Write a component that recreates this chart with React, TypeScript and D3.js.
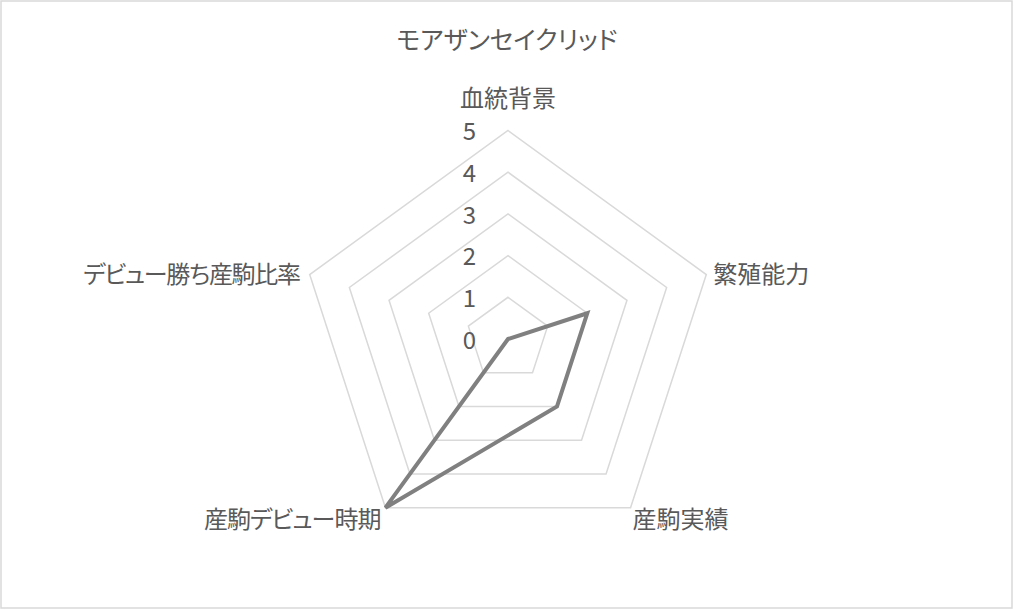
import * as d3 from 'd3';
import React, { useEffect, useRef } from 'react';

const chartTitle = 'モアザンセイクリッド';
const categories = ['血統背景', '繁殖能力', '産駒実績', '産駒デビュー時期', 'デビュー勝ち産駒比率'];
const values = [0, 2, 2, 5, 0];
const tickValues = [0, 1, 2, 3, 4, 5];

const W = 1014;
const H = 610;

const App: React.FC = () => {
  const chartRef = useRef<SVGSVGElement | null>(null);

  useEffect(() => {
    if (!chartRef.current) return;
    const svg = d3.select(chartRef.current);
    svg.selectAll('*').remove();

    const cx = 508;
    const cy = 339;
    const textColor = '#595959';
    const font = '"Noto Sans CJK JP", "Noto Sans", sans-serif';

    // fondo y borde
    svg
      .append('rect')
      .attr('x', 1)
      .attr('y', 1)
      .attr('width', W - 3)
      .attr('height', H - 3)
      .attr('fill', '#fff')
      .attr('stroke', '#d9d9d9')
      .attr('stroke-width', 1.5);

    const r = d3.scaleLinear().domain([0, 5]).range([0, 208.5]);
    const angle = (i: number) => (i * 2 * Math.PI) / categories.length;
    const pt = (i: number, v: number): [number, number] => [
      cx + r(v) * Math.sin(angle(i)),
      cy - r(v) * Math.cos(angle(i)),
    ];

    const g = svg.append('g');

    // rejilla
    const closed = d3.line<[number, number]>().curve(d3.curveLinearClosed);
    tickValues.slice(1).forEach((t) => {
      g.append('path')
        .attr('d', closed(categories.map((_, i) => pt(i, t))))
        .attr('fill', 'none')
        .attr('stroke', '#d9d9d9')
        .attr('stroke-width', 1.5);
    });

    // serie
    g.append('path')
      .attr('d', closed(values.map((v, i) => pt(i, v))))
      .attr('fill', 'none')
      .attr('stroke', '#808080')
      .attr('stroke-width', 4)
      .attr('stroke-linejoin', 'miter');

    // etiquetas de valores
    g.selectAll('text.tick')
      .data(tickValues)
      .enter()
      .append('text')
      .attr('class', 'tick')
      .attr('x', cx - 32)
      .attr('y', (d) => cy - r(d) + 1)
      .attr('dy', '0.36em')
      .attr('text-anchor', 'end')
      .style('font-family', font)
      .style('font-size', '24px')
      .style('fill', textColor)
      .text((d) => d);

    // etiquetas de categorías
    const labelPos = [
      { dx: 0, dy: -24, anchor: 'middle', base: 'alphabetic', ls: 0 },
      { dx: 7, dy: -2, anchor: 'start', base: 'central', ls: 0 },
      { dx: 2, dy: 10, anchor: 'start', base: 'central', ls: 0 },
      { dx: -5, dy: 10, anchor: 'end', base: 'central', ls: -1 },
      { dx: -10, dy: -2, anchor: 'end', base: 'central', ls: -1.3 },
    ];
    categories.forEach((c, i) => {
      const [x, y] = pt(i, 5);
      const p = labelPos[i];
      g.append('text')
        .attr('x', x + p.dx)
        .attr('y', y + p.dy)
        .attr('text-anchor', p.anchor)
        .attr('dominant-baseline', p.base)
        .style('font-family', font)
        .style('font-size', '24px')
        .style('letter-spacing', `${p.ls}px`)
        .style('font-feature-settings', '"palt"')
        .style('fill', textColor)
        .text(c);
    });

    // título
    svg
      .append('text')
      .attr('x', 507)
      .attr('y', 49)
      .attr('text-anchor', 'middle')
      .style('font-family', font)
      .style('font-size', '25px')
      .style('font-feature-settings', '"palt"')
      .style('fill', textColor)
      .text(chartTitle);
  }, []);

  return (
    <div style={{ position: 'fixed', left: 0, top: 0, width: W, height: H, background: '#fff' }}>
      <svg ref={chartRef} width={W} height={H}></svg>
    </div>
  );
};

export default App;
